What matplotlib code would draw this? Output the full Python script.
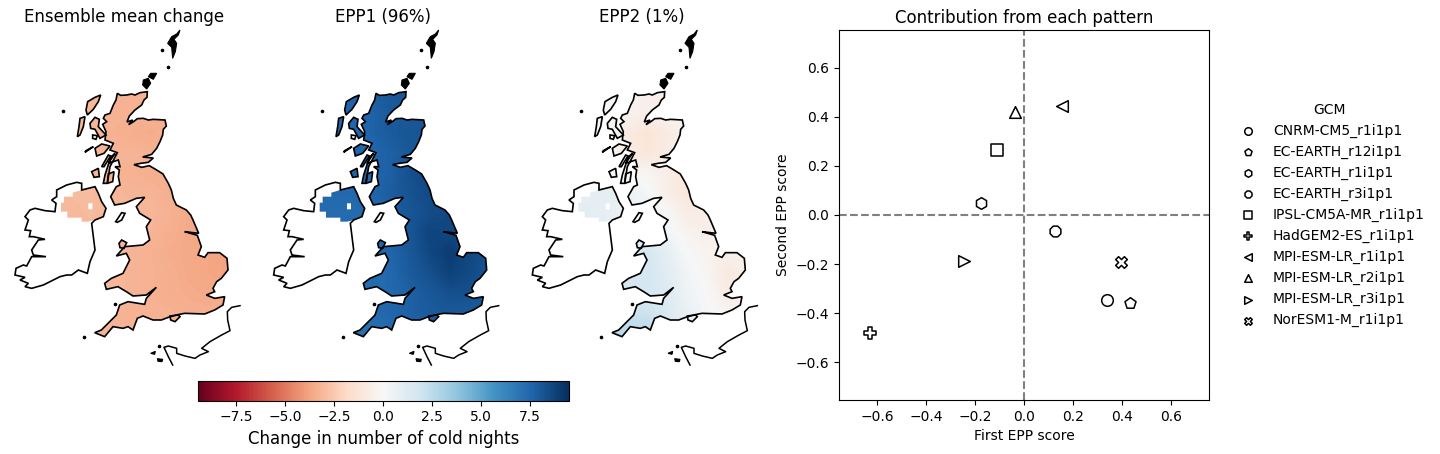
"""UK cold-night change maps (ensemble mean, EPP1, EPP2) plus EPP score scatter."""

from __future__ import annotations

import matplotlib

matplotlib.use("Agg")
import matplotlib.pyplot as plt
import numpy as np
from matplotlib.cm import ScalarMappable
from matplotlib.colors import Normalize
from matplotlib.patches import PathPatch
from matplotlib.path import Path

W, H = 1440, 454
VMAX = 9.45

# coastlines, in map units (3 units = 1 px of the first panel)
GB = [
    (352, 220), (362, 226), (380, 225), (395, 222), (405, 225), (420, 218), (442, 215), (441, 232),
    (432, 240), (425, 255), (405, 270), (388, 288), (381, 306), (398, 300), (386, 314), (402, 304),
    (412, 296), (430, 295), (445, 300), (460, 298), (495, 300), (499, 318), (490, 328), (488, 345),
    (480, 365), (470, 385), (455, 403), (428, 411), (460, 414), (445, 427), (422, 430), (402, 434),
    (425, 442), (448, 437), (470, 450), (489, 462), (505, 490), (514, 510), (520, 535), (529, 555),
    (559, 570), (572, 585), (579, 600), (596, 640), (554, 635), (575, 641), (592, 646), (604, 680),
    (594, 705), (614, 712), (624, 698), (659, 698), (681, 715), (684, 750), (664, 775), (650, 785),
    (639, 805), (644, 815), (619, 825), (644, 835), (674, 830), (669, 855), (644, 870), (614, 882),
    (554, 880), (529, 885), (505, 892), (484, 900), (459, 900), (429, 888), (412, 895), (399, 930),
    (384, 920), (369, 925), (339, 920), (314, 950), (284, 938), (304, 930), (329, 905), (349, 885),
    (359, 855), (384, 845), (434, 853), (439, 835), (469, 802), (439, 825), (399, 828), (379, 815),
    (354, 800), (319, 808), (314, 790), (334, 775), (369, 760), (389, 720), (379, 700), (349, 708),
    (374, 680), (429, 675), (449, 660), (439, 620), (452, 600), (419, 580), (409, 560), (434, 532),
    (409, 535), (374, 550), (344, 555), (332, 530), (349, 500), (360, 495), (355, 470), (358, 450),
    (345, 440), (360, 440), (355, 420), (325, 430), (345, 400), (332, 412), (315, 465), (310, 490),
    (322, 490), (330, 440), (352, 398), (330, 390), (340, 370), (315, 360), (318, 335), (308, 313),
    (320, 305), (310, 295), (315, 285), (330, 280), (340, 255), (348, 240),
]
IRELAND = [
    (230, 487), (245, 490), (245, 510), (265, 505), (285, 500), (295, 520), (305, 545), (318, 565),
    (310, 590), (285, 600), (275, 610), (280, 650), (285, 690), (270, 725), (262, 760), (235, 750),
    (215, 765), (200, 765), (180, 770), (160, 780), (130, 795), (95, 805), (75, 800), (85, 790),
    (60, 780), (75, 772), (45, 765), (48, 745), (70, 735), (80, 738), (95, 710), (138, 710), (100, 705),
    (95, 690), (115, 660), (135, 658), (100, 650), (88, 650), (92, 632), (75, 630), (85, 600), (75, 590),
    (90, 570), (105, 565), (135, 572), (165, 575), (168, 550), (155, 540), (170, 530), (170, 510),
    (200, 495),
]
SHETLAND = [(540, 30), (530, 42), (515, 50), (503, 70), (515, 82), (518, 115), (526, 95), (530, 70),
            (522, 58), (535, 45)]
ORKNEY_MAIN = [(430, 180), (445, 175), (452, 190), (440, 207), (428, 195)]
ORKNEY_NORTH = [(445, 170), (452, 160), (470, 160), (460, 178)]
LEWIS = [(302, 225), (295, 245), (280, 268), (262, 285), (258, 270), (263, 245), (285, 232)]
UIST = [(240, 295), (255, 290), (250, 320), (240, 345), (232, 350), (237, 320)]
SKYE = [(270, 310), (285, 292), (298, 298), (295, 320), (318, 345), (300, 355), (285, 328), (272, 325)]
RUM = [(278, 345), (292, 347), (288, 358), (278, 355)]
MULL = [(285, 385), (305, 372), (330, 378), (312, 400), (290, 408)]
COLL = [(255, 397), (280, 380), (258, 392)]
JURA = [(305, 440), (325, 405), (332, 408), (312, 440)]
ISLAY = [(275, 455), (295, 445), (298, 470), (282, 472)]
ARRAN = [(325, 462), (342, 455), (338, 485), (322, 490)]
MAN = [(347, 605), (365, 578), (375, 580), (365, 600), (352, 607)]
ANGLESEY = [(357, 670), (365, 660), (380, 668), (372, 685), (360, 683)]
WIGHT = [(510, 888), (535, 885), (540, 890), (525, 905), (512, 900)]
JERSEY = [(472, 1016), (488, 1018), (486, 1025), (474, 1024)]
GUERNSEY = [(452, 1000), (466, 994), (464, 1003)]
SPECKS = [(487, 90), (505, 142), (190, 273), (252, 952), (478, 978), (345, 852)]
FRANCE = [
    (720, 857), (695, 862), (682, 875), (683, 900), (690, 932), (665, 945), (630, 965), (605, 985),
    (625, 995), (600, 1005), (585, 1015), (555, 1008), (530, 1000), (530, 985), (505, 978), (492, 982),
    (505, 1010), (518, 1035),
]
# only the cells of Northern Ireland have data on the island of Ireland
NI_CELLS = [
    (192, 530), (218, 530), (218, 518), (245, 510), (265, 505), (285, 500), (295, 520), (305, 545),
    (318, 565), (310, 590), (285, 600), (265, 605), (245, 605), (245, 593), (202, 593), (202, 575),
    (183, 575), (183, 548), (192, 548),
]
NI_GAP = [(265, 550), (277, 550), (277, 568), (265, 568)]

FIELD_X = [150, 210, 270, 330, 390, 450, 510, 570, 630, 690]
FIELD_Y = [220, 280, 340, 400, 460, 520, 580, 640, 700, 760, 820, 880, 940]
ENSEMBLE = [
    [-3.1, -3.1, -3.1, -3.2, -3.3, -3.3, -3.3, -3.3, -3.3, -3.3],
    [-3.1, -3.1, -3.1, -3.3, -3.3, -3.4, -3.4, -3.4, -3.4, -3.4],
    [-3.1, -3.1, -3.1, -3.3, -3.4, -3.5, -3.4, -3.4, -3.4, -3.4],
    [-3.1, -3.1, -3.1, -3.2, -3.2, -3.3, -3.3, -3.4, -3.4, -3.4],
    [-3.1, -3.1, -3.1, -3.2, -3.3, -3.4, -3.5, -3.5, -3.5, -3.5],
    [-3.1, -3.0, -3.0, -3.1, -3.2, -3.2, -3.4, -3.5, -3.5, -3.5],
    [-3.1, -3.1, -3.0, -3.1, -3.1, -3.1, -3.3, -3.6, -3.6, -3.6],
    [-3.1, -3.1, -3.1, -3.1, -3.1, -3.2, -3.4, -3.6, -3.7, -3.7],
    [-3.1, -3.1, -3.1, -3.1, -3.2, -3.3, -3.5, -3.6, -3.7, -3.8],
    [-3.1, -3.1, -3.1, -3.1, -3.2, -3.3, -3.4, -3.6, -3.7, -3.8],
    [-3.1, -3.1, -3.1, -3.1, -3.2, -3.3, -3.4, -3.5, -3.6, -3.6],
    [-3.2, -3.2, -3.2, -3.2, -3.3, -3.3, -3.3, -3.4, -3.4, -3.4],
    [-3.2, -3.2, -3.2, -3.2, -3.3, -3.3, -3.3, -3.4, -3.4, -3.4],
]
EPP1 = [
    [7.6, 7.6, 7.6, 7.8, 8.0, 8.0, 8.0, 8.0, 8.0, 8.0],
    [7.6, 7.6, 7.6, 7.6, 7.9, 8.0, 8.1, 8.1, 8.1, 8.1],
    [7.6, 7.6, 7.6, 7.6, 7.9, 8.1, 8.2, 8.2, 8.2, 8.2],
    [7.6, 7.6, 7.6, 7.5, 7.7, 8.0, 8.1, 8.1, 8.1, 8.1],
    [7.6, 7.6, 7.6, 7.5, 7.7, 8.3, 8.6, 8.3, 8.3, 8.3],
    [7.5, 7.4, 7.4, 7.5, 7.8, 8.2, 8.5, 8.5, 8.5, 8.5],
    [7.4, 7.3, 7.3, 7.4, 7.7, 8.1, 8.4, 8.6, 8.5, 8.5],
    [7.4, 7.4, 7.4, 7.4, 7.7, 8.1, 8.7, 8.6, 8.4, 8.4],
    [7.4, 7.4, 7.4, 7.4, 7.5, 8.0, 8.6, 9.0, 8.6, 8.2],
    [7.3, 7.3, 7.3, 7.3, 7.4, 7.9, 8.3, 8.8, 8.5, 8.2],
    [7.3, 7.3, 7.3, 7.3, 7.4, 7.7, 8.0, 8.3, 8.3, 8.0],
    [7.2, 7.2, 7.2, 7.3, 7.5, 7.7, 7.9, 8.0, 7.9, 7.8],
    [7.1, 7.1, 7.1, 7.1, 7.3, 7.5, 7.7, 7.8, 7.8, 7.8],
]
EPP2 = [
    [0.0, 0.0, 0.0, -0.3, -0.5, -0.5, -0.1, 0.0, 0.0, 0.0],
    [0.0, 0.0, 0.0, -0.4, -0.5, -0.3, -0.1, 0.0, 0.0, 0.0],
    [0.0, 0.0, 0.0, -0.8, -1.2, -0.8, -0.3, 0.0, 0.0, 0.0],
    [0.0, 0.0, 0.0, -0.8, -1.1, -0.7, -0.3, 0.0, 0.0, 0.0],
    [0.3, 0.3, 0.3, -0.1, -0.2, -0.6, -1.0, -0.5, 0.0, 0.0],
    [0.9, 0.9, 0.9, 0.6, 0.2, -0.6, -1.1, -0.5, -0.1, 0.0],
    [0.9, 1.0, 0.8, 0.5, 0.6, 0.0, -0.7, -0.7, -0.3, -0.1],
    [0.8, 0.8, 0.8, 0.8, 0.9, 0.3, -0.3, -0.5, -0.4, -0.3],
    [1.2, 1.2, 1.3, 1.3, 1.6, 0.9, 0.0, -0.3, -0.5, -0.4],
    [1.5, 1.5, 1.5, 1.5, 1.7, 1.1, 0.3, -0.2, -0.9, -0.6],
    [1.5, 1.5, 1.5, 1.5, 1.6, 1.3, 0.4, 0.0, -0.7, -0.6],
    [2.0, 2.0, 2.0, 2.0, 2.0, 1.4, 0.7, 0.1, -0.2, -0.2],
    [2.6, 2.6, 2.6, 2.6, 2.6, 1.7, 0.9, 0.3, 0.0, 0.0],
]

PANEL_TITLES = ["Ensemble mean change", "EPP1 (96%)", "EPP2 (1%)"]
PANEL_FIELDS = [ENSEMBLE, EPP1, EPP2]
PANEL_LEFT = [0, 258.67, 517.33]
TITLE_CENTRE = [124.5, 383, 642]

GCMS = [
    "CNRM-CM5_r1i1p1", "EC-EARTH_r12i1p1", "EC-EARTH_r1i1p1", "EC-EARTH_r3i1p1", "IPSL-CM5A-MR_r1i1p1",
    "HadGEM2-ES_r1i1p1", "MPI-ESM-LR_r1i1p1", "MPI-ESM-LR_r2i1p1", "MPI-ESM-LR_r3i1p1", "NorESM1-M_r1i1p1",
]
MARKERS = ["o", "p", "h", "8", "s", "P", "<", "^", ">", "X"]
EPP1_SCORE = [0.339, 0.433, -0.176, 0.127, -0.11, -0.629, 0.155, -0.037, -0.245, 0.396]
EPP2_SCORE = [-0.347, -0.359, 0.049, -0.065, 0.265, -0.482, 0.445, 0.42, -0.188, -0.192]


def px_axes(fig, left, top, right, bottom):
    return fig.add_axes([left / W, 1 - bottom / H, (right - left) / W, (bottom - top) / H])


def closed(points):
    pts = list(points) + [points[0]]
    codes = [Path.MOVETO] + [Path.LINETO] * (len(pts) - 2) + [Path.CLOSEPOLY]
    return Path(pts, codes)


def draw_map(fig, left, field, title, centre, cmap, norm):
    ax = px_axes(fig, left, 20, left + 260, 380)
    ax.axis("off")

    land = Path.make_compound_path(*[closed(p) for p in (GB, NI_CELLS, NI_GAP[::-1], LEWIS, UIST, SKYE,
                                                         MULL, JURA, ISLAY, ARRAN, ANGLESEY, WIGHT)])
    dx, dy = (FIELD_X[1] - FIELD_X[0]) / 2, (FIELD_Y[1] - FIELD_Y[0]) / 2
    im = ax.imshow(field, cmap=cmap, norm=norm, interpolation="bilinear", aspect="auto",
                   extent=(FIELD_X[0] - dx, FIELD_X[-1] + dx, FIELD_Y[-1] + dy, FIELD_Y[0] - dy))
    ax.set_xlim(0, 780)
    ax.set_ylim(1080, 0)
    clip = PathPatch(land, transform=ax.transData, fc="none", ec="none")
    ax.add_patch(clip)
    im.set_clip_path(clip)

    for shape in (GB, IRELAND, SKYE, RUM, LEWIS, UIST, MULL, COLL, JURA, ISLAY, ARRAN, MAN, ANGLESEY, WIGHT):
        ax.add_patch(PathPatch(closed(shape), fc="none", ec="black", lw=1.2))
    for shape in (SHETLAND, ORKNEY_MAIN, ORKNEY_NORTH, JERSEY, GUERNSEY):
        ax.add_patch(PathPatch(closed(shape), fc="black", ec="black", lw=0.8))
    ax.plot(*zip(*FRANCE), color="black", lw=1.1)
    ax.plot(*zip(*SPECKS), ls="none", marker="o", ms=1.6, color="black")
    ax.text(centre / W, 1 - 17 / H, title, transform=fig.transFigure, ha="center", va="center", fontsize=12)


def draw_scores(fig):
    ax = px_axes(fig, 839, 30, 1209, 400)
    ax.axhline(0, color="gray", ls="--", lw=1.5, zorder=1)
    ax.axvline(0, color="gray", ls="--", lw=1.5, zorder=1)
    for name, marker, x, y in zip(GCMS, MARKERS, EPP1_SCORE, EPP2_SCORE):
        ax.scatter(x, y, marker=marker, s=70, fc="white", ec="black", lw=1.1, label=name, zorder=3)
    ax.set_xlim(-0.755, 0.755)
    ax.set_ylim(-0.755, 0.755)
    ax.set_xticks(np.arange(-0.6, 0.61, 0.2))
    ax.set_yticks(np.arange(-0.6, 0.61, 0.2))
    ax.set_xlabel("First EPP score")
    ax.set_ylabel("Second EPP score")
    ax.set_title("Contribution from each pattern", fontsize=12, pad=5)
    ax.legend(title="GCM", frameon=False, loc="center left", bbox_to_anchor=(1.034, 0.5), markerscale=0.65)


def main() -> None:
    fig = plt.figure(figsize=(W / 100, H / 100), dpi=100)
    cmap = plt.get_cmap("RdBu")
    norm = Normalize(-VMAX, VMAX)

    for left, field, title, centre in zip(PANEL_LEFT, PANEL_FIELDS, PANEL_TITLES, TITLE_CENTRE):
        draw_map(fig, left, field, title, centre, cmap, norm)

    cax = px_axes(fig, 198, 381, 568.5, 400.5)
    cb = fig.colorbar(ScalarMappable(norm=norm, cmap=cmap), cax=cax, orientation="horizontal")
    cb.set_ticks([-7.5, -5, -2.5, 0, 2.5, 5, 7.5])
    cb.set_label("Change in number of cold nights", fontsize=12)

    draw_scores(fig)
    fig.savefig("out.png", dpi=100)
    plt.close(fig)


if __name__ == "__main__":
    main()
